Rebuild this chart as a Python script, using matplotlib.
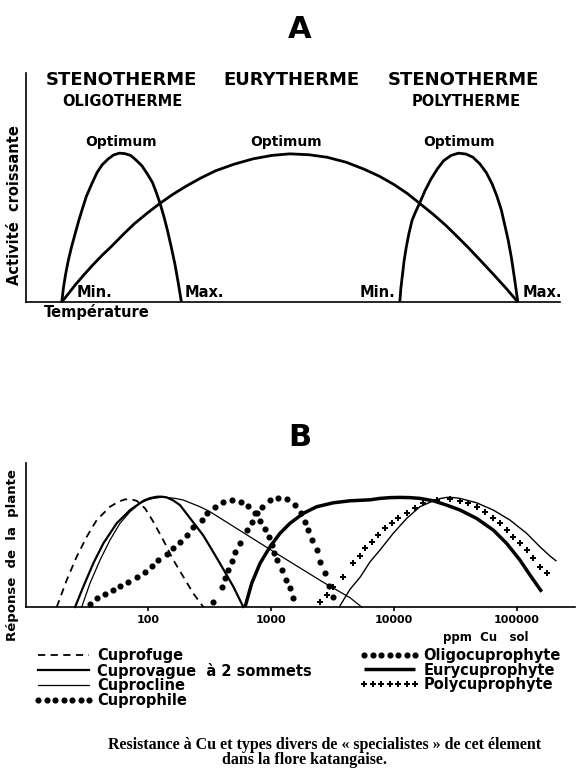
import matplotlib
matplotlib.use('Agg')
import matplotlib.pyplot as plt
import numpy as np

plt.rcParams['font.family'] = ['DejaVu Sans']

# ---------------- Panel A data (temperature 0-100, activity 0-100) ----------------
oligo_t = [6.7, 7.0, 7.4, 7.9, 8.5, 9.2, 9.9, 10.6, 11.3, 12.3, 13.3, 14.3, 15.4, 16.4, 17.5, 18.5, 19.6, 20.6,
           21.7, 22.7, 23.7, 24.4, 25.1, 25.8, 26.5, 27.2, 27.9, 28.5, 29.1]
oligo_a = [0, 6.0, 11.9, 17.9, 23.8, 29.8, 35.7, 41.0, 46.1, 51.5, 56.5, 60.0, 62.5, 64.2, 65.0, 64.8, 64.0, 62.0,
           59.5, 56.0, 52.1, 47.8, 43.1, 37.5, 31.2, 24.0, 16.4, 8.5, 0]
eury_t = [6.7, 8.0, 9.2, 10.9, 12.6, 14.3, 16.1, 18.2, 20.3, 22.7, 25.1, 27.5, 30.0, 32.7, 35.5, 39.0, 42.5, 46.0,
          49.4, 53.0, 56.4, 60.0, 63.3, 66.2, 68.9, 71.4, 73.7, 76.2, 78.6, 80.7, 82.8, 85.2, 87.6, 89.9, 92.1]
eury_a = [0, 3.8, 7.4, 12.0, 16.4, 20.5, 24.5, 29.5, 34.2, 38.8, 43.1, 47.0, 50.6, 54.1, 57.3, 60.2, 62.5, 64.0,
          64.7, 64.3, 63.2, 61.0, 58.0, 54.9, 51.3, 47.4, 43.1, 38.4, 33.5, 28.7, 23.8, 17.9, 11.9, 6.0, 0]
poly_t = [70.0, 70.2, 70.5, 70.8, 71.2, 71.7, 72.3, 73.0, 73.7, 74.7, 75.8, 77.0, 78.2, 79.6, 81.0, 82.4, 83.7,
          85.0, 86.2, 87.3, 88.2, 89.0, 89.6, 90.3, 90.9, 91.5, 92.1]
poly_a = [0, 6.0, 11.9, 17.9, 23.8, 29.8, 35.7, 39.6, 43.1, 48.5, 53.5, 58.0, 61.7, 64.0, 65.0, 64.6, 63.2,
          60.3, 56.5, 51.5, 46.1, 40.3, 34.2, 27.0, 19.3, 10.0, 0]

# ---------------- Panel B data (log10 ppm Cu, relative response) ----------------
cuprofuge_log = [1.258, 1.339, 1.420, 1.502, 1.583, 1.691, 1.760, 1.813, 1.865, 1.908, 1.976, 2.043, 2.124, 2.206, 2.287, 2.368, 2.450]
cuprofuge_r = [0, 0.245, 0.457, 0.639, 0.791, 0.912, 0.958, 0.979, 0.979, 0.966, 0.897, 0.776, 0.609, 0.427, 0.276, 0.124, 0]

cuprovague1_log = [1.407, 1.474, 1.555, 1.637, 1.745, 1.854, 1.962, 2.015, 2.071, 2.110, 2.152, 2.205, 2.260, 2.368, 2.450, 2.504, 2.585, 2.694, 2.775]
cuprovague1_r = [0, 0.185, 0.397, 0.579, 0.761, 0.882, 0.966, 0.990, 1.003, 1.004, 0.997, 0.970, 0.927, 0.77, 0.65, 0.55, 0.397, 0.185, 0]
cuprovague2_log = [3.555, 3.642, 3.724, 3.805, 3.886, 3.994, 4.103, 4.211, 4.320, 4.375, 4.428, 4.480, 4.537, 4.672, 4.807, 4.943, 5.079, 5.187, 5.268, 5.317]
cuprovague2_r = [0, 0.16, 0.27, 0.41, 0.518, 0.67, 0.806, 0.912, 0.966, 0.986, 0.997, 0.996, 0.988, 0.948, 0.882, 0.791, 0.67, 0.548, 0.464, 0.421]

cuprocline_log = [1.461, 1.528, 1.610, 1.691, 1.772, 1.854, 1.935, 1.990, 2.043, 2.100, 2.152, 2.220, 2.287, 2.423, 2.504, 2.612, 3.019, 3.425, 3.642, 3.737]
cuprocline_r = [0, 0.215, 0.427, 0.609, 0.761, 0.867, 0.943, 0.972, 0.988, 0.997, 0.997, 0.988, 0.973, 0.912, 0.867, 0.791, 0.505, 0.225, 0.085, 0]

cuprophile_log = [1.528, 1.583, 1.650, 1.718, 1.772, 1.840, 1.908, 1.976, 2.030, 2.084, 2.152, 2.206, 2.260, 2.314, 2.368, 2.436,
                  2.477, 2.545, 2.612, 2.680, 2.754, 2.816, 2.870, 2.911, 2.951, 2.984, 3.011, 3.027, 3.046, 3.087, 3.122, 3.152, 3.182]
cuprophile_r = [0.027, 0.079, 0.115, 0.155, 0.191, 0.230, 0.276, 0.321, 0.373, 0.427, 0.482, 0.533, 0.594, 0.655, 0.730, 0.791,
                0.852, 0.912, 0.957, 0.973, 0.952, 0.918, 0.852, 0.785, 0.706, 0.633, 0.561, 0.494, 0.427, 0.336, 0.245, 0.170, 0.079]

oligocu_log = [2.531, 2.599, 2.626, 2.653, 2.680, 2.707, 2.748, 2.802, 2.843, 2.884, 2.924, 2.992, 3.060, 3.128, 3.195,
               3.244, 3.276, 3.303, 3.331, 3.371, 3.398, 3.439, 3.474, 3.507]
oligocu_r = [0.048, 0.185, 0.261, 0.336, 0.421, 0.503, 0.579, 0.700, 0.776, 0.852, 0.912, 0.973, 0.994, 0.982, 0.927,
             0.852, 0.776, 0.700, 0.609, 0.518, 0.412, 0.306, 0.191, 0.088]

eurycu_log = [2.789, 2.843, 2.911, 2.992, 3.073, 3.154, 3.263, 3.371, 3.507, 3.642, 3.805, 3.886, 3.970, 4.049, 4.130, 4.211, 4.320,
              4.428, 4.537, 4.672, 4.807, 4.916, 5.024, 5.106, 5.201]
eurycu_r = [0, 0.215, 0.397, 0.548, 0.670, 0.761, 0.852, 0.912, 0.948, 0.966, 0.975, 0.988, 0.995, 0.997, 0.995, 0.988, 0.966,
            0.927, 0.882, 0.806, 0.700, 0.579, 0.427, 0.291, 0.139]

polycu_log = [3.398, 3.453, 3.507, 3.588, 3.669, 3.724, 3.764, 3.819, 3.872, 3.927, 3.981, 4.035, 4.103, 4.171, 4.238,
              4.347, 4.455, 4.537, 4.604, 4.672, 4.740, 4.807, 4.862, 4.916, 4.970, 5.024, 5.079, 5.133, 5.187, 5.241]
polycu_r = [0.048, 0.109, 0.185, 0.276, 0.397, 0.464, 0.533, 0.594, 0.655, 0.715, 0.761, 0.806, 0.852, 0.897, 0.943,
            0.973, 0.979, 0.967, 0.943, 0.912, 0.867, 0.806, 0.761, 0.700, 0.639, 0.579, 0.518, 0.442, 0.367, 0.306]

x_ticks = [100, 1000, 10000, 100000]
x_tick_labels = ['100', '1000', '10000', '100000']

labels_left = ['Cuprofuge', 'Cuprovague  à 2 sommets', 'Cuprocline', 'Cuprophile']
labels_right = ['Oligocuprophyte', 'Eurycuprophyte', 'Polycuprophyte']

# ---------------- figure ----------------
W, H = 585, 770
fig = plt.figure(figsize=(W / 100, H / 100), dpi=100)


def fx(x):
    return x / W


def fy(y):
    return 1 - y / H


# ---- Panel A ----
axA = fig.add_axes([fx(26), fy(302), (560 - 26) / W, (302 - 73) / H])
axA.set_xlim(0, 100)
axA.set_ylim(0, 100)
for s in ['top', 'right']:
    axA.spines[s].set_visible(False)
for s in ['left', 'bottom']:
    axA.spines[s].set_linewidth(1.2)
axA.set_xticks([])
axA.set_yticks([])
kwA = dict(color='black', lw=2.0, clip_on=False, solid_joinstyle='round', solid_capstyle='butt')
axA.plot(oligo_t, oligo_a, **kwA)
axA.plot(eury_t, eury_a, **kwA)
axA.plot(poly_t, poly_a, **kwA)

fig.text(fx(300), fy(30), 'A', ha='center', va='center', fontsize=22, fontweight='bold')
for x, t in [(121, 'STENOTHERME'), (291, 'EURYTHERME'), (463, 'STENOTHERME')]:
    fig.text(fx(x), fy(80), t, ha='center', va='center', fontsize=13, fontweight='bold')
fig.text(fx(122), fy(101), 'OLIGOTHERME', ha='center', va='center', fontsize=10.5, fontweight='bold')
fig.text(fx(466), fy(101), 'POLYTHERME', ha='center', va='center', fontsize=10.5, fontweight='bold')
for x in [121, 286, 459]:
    fig.text(fx(x), fy(142), 'Optimum', ha='center', va='center', fontsize=10, fontweight='bold')
for x, t in [(77, 'Min.'), (185, 'Max.'), (360, 'Min.'), (523, 'Max.')]:
    fig.text(fx(x), fy(293), t, ha='left', va='center', fontsize=10.5, fontweight='bold')
fig.text(fx(97), fy(312), 'Température', ha='center', va='center', fontsize=10.5, fontweight='bold')
fig.text(fx(15), fy(205), 'Activité  croissante', ha='center', va='center', rotation=90,
         fontsize=10.5, fontweight='bold')

# ---- Panel B ----
axB = fig.add_axes([fx(26), fy(607), (575 - 26) / W, (607 - 463) / H])
axB.set_xscale('log')
axB.set_xlim(10 ** 1.008, 10 ** 5.472)
axB.set_ylim(0, 1.31)
for s in ['top', 'right']:
    axB.spines[s].set_visible(False)
for s in ['left', 'bottom']:
    axB.spines[s].set_linewidth(1.2)
axB.set_yticks([])
axB.set_xticks(x_ticks)
axB.set_xticklabels(x_tick_labels, fontsize=8, fontweight='bold')
axB.xaxis.set_minor_locator(matplotlib.ticker.NullLocator())
axB.tick_params(axis='x', direction='out', length=3, width=1.2, pad=3)

lx = lambda a: [10 ** v for v in a]
l_fuge, = axB.plot(lx(cuprofuge_log), cuprofuge_r, color='black', lw=1.3, ls=(0, (4, 3)), clip_on=False)
l_vague, = axB.plot(lx(cuprovague1_log), cuprovague1_r, color='black', lw=1.6, clip_on=False)
axB.plot(lx(cuprovague2_log), cuprovague2_r, color='black', lw=1.0, clip_on=False)
l_cline, = axB.plot(lx(cuprocline_log), cuprocline_r, color='black', lw=0.9, clip_on=False)
l_phile, = axB.plot(lx(cuprophile_log), cuprophile_r, color='black', ls='none', marker='o', ms=3.4, clip_on=False)
l_oligo, = axB.plot(lx(oligocu_log), oligocu_r, color='black', ls='none', marker='o', ms=3.4, clip_on=False)
l_eury, = axB.plot(lx(eurycu_log), eurycu_r, color='black', lw=2.5, clip_on=False, solid_capstyle='butt')
l_poly, = axB.plot(lx(polycu_log), polycu_r, color='black', ls='none', marker='P', ms=4.2, mew=0, clip_on=False)

fig.text(fx(300), fy(437), 'B', ha='center', va='center', fontsize=22, fontweight='bold')
fig.text(fx(13), fy(555), 'Réponse  de  la  plante', ha='center', va='center', rotation=90,
         fontsize=9.5, fontweight='bold')
fig.text(fx(486), fy(637), 'ppm  Cu   sol', ha='center', va='center', fontsize=8.5, fontweight='bold')

legkw = dict(loc='upper left', frameon=False, handlelength=4.1, handletextpad=0.25, labelspacing=-0.03,
             borderpad=0, borderaxespad=0, numpoints=7, prop={'size': 10.5, 'weight': 'bold'})
fig.legend([l_fuge, l_vague, l_cline, l_phile], labels_left, bbox_to_anchor=(fx(34), fy(648)), **legkw)
fig.legend([l_oligo, l_eury, l_poly], labels_right, bbox_to_anchor=(fx(360), fy(648)), **legkw)

fig.text(fx(325), fy(745), 'Resistance à Cu et types divers de « specialistes » de cet élement',
         ha='center', va='center', fontsize=11.5, fontweight='bold', family='Liberation Serif')
fig.text(fx(305), fy(760), 'dans la flore katangaise.', ha='center', va='center', fontsize=11.5,
         fontweight='bold', family='Liberation Serif')

fig.savefig('out.png', dpi=100)
